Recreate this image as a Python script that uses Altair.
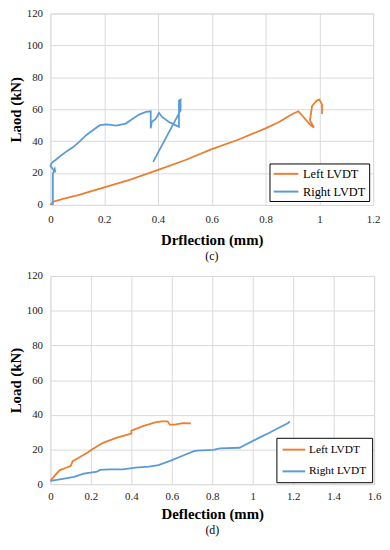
import altair as alt
import pandas as pd

# ---- data ----
# (c)
c_left_x = [0.0, 0.01, 0.05, 0.10, 0.20, 0.30, 0.40, 0.50, 0.60, 0.70, 0.80, 0.85, 0.90, 0.922,
            0.967, 0.98, 0.965, 0.973, 0.99, 1.0, 1.01, 1.01]
c_left_y = [0.0, 2.0, 4.0, 6.0, 11.0, 16.0, 22.0, 28.0, 35.0, 41.0, 48.0, 52.0, 57.0, 58.7,
            50.0, 48.5, 53.0, 62.0, 65.4, 66.0, 63.0, 57.0]
c_right_x = [0.009, 0.009, 0.016, 0.018, 0.0, 0.006, 0.018, 0.037, 0.061, 0.086, 0.11, 0.135,
             0.159, 0.184, 0.208, 0.245, 0.28, 0.306, 0.33, 0.355, 0.373, 0.373, 0.377, 0.392,
             0.404, 0.416, 0.441, 0.465, 0.478, 0.478, 0.484, 0.484, 0.382]
c_right_y = [0.0, 19.4, 22.5, 20.5, 24.5, 26.6, 28.0, 30.7, 33.7, 36.4, 40.0, 44.0,
             47.0, 50.0, 50.5, 49.7, 51.0, 54.0, 56.6, 58.3, 58.7, 48.0, 52.0, 54.0,
             57.7, 55.0, 52.0, 50.0, 49.0, 65.4, 66.0, 59.3, 27.0]
# (d)
d_left_x = [0.0, 0.02, 0.045, 0.077, 0.10, 0.11, 0.14, 0.18, 0.205, 0.245, 0.26, 0.325, 0.40,
            0.40, 0.454, 0.518, 0.55, 0.579, 0.59, 0.614, 0.654, 0.694]
d_left_y = [1.9, 4.8, 8.0, 9.5, 10.5, 13.3, 15.2, 18.0, 20.0, 22.9, 23.8, 26.7, 29.1,
            30.9, 33.3, 35.6, 36.2, 36.2, 34.3, 34.3, 35.2, 35.0]
d_right_x = [0.0, 0.069, 0.117, 0.165, 0.23, 0.245, 0.293, 0.357, 0.42, 0.486, 0.534, 0.598,
             0.662, 0.71, 0.726, 0.806, 0.838, 0.935, 0.966, 0.999, 1.03, 1.08, 1.127, 1.175, 1.183]
d_right_y = [1.9, 3.2, 4.2, 6.1, 7.2, 8.2, 8.6, 8.6, 9.5, 10.1, 11.0, 13.7,
             16.8, 19.0, 19.4, 19.8, 20.6, 21.0, 22.9, 24.8, 26.7, 29.5, 32.4, 35.2, 36.2]

series = ["Left LVDT", "Right LVDT"]
colors = ["#ED7D31", "#5B9BD5"]
c_x_ticks = [0, 0.2, 0.4, 0.6, 0.8, 1.0, 1.2]
d_x_ticks = [0, 0.2, 0.4, 0.6, 0.8, 1.0, 1.2, 1.4, 1.6]
y_ticks = [0, 20, 40, 60, 80, 100, 120]

FONT = "Liberation Serif"


def frame(lx, ly, rx, ry):
    rows = []
    for name, xs, ys in [(series[0], lx, ly), (series[1], rx, ry)]:
        for i, (x, y) in enumerate(zip(xs, ys)):
            rows.append({"s": name, "x": x, "y": y, "i": i})
    return pd.DataFrame(rows)


def panel(df, xmax, xticks, xtitle, ytitle, caption, w, h, legend,
          lpad, tpad, coff):
    return alt.Chart(df, title=alt.TitleParams(
        caption, orient="bottom", font=FONT, fontSize=12, fontWeight="normal",
        color="#000", offset=coff)).mark_line(strokeWidth=1.8).encode(
        x=alt.X("x:Q", scale=alt.Scale(domain=[0, xmax], nice=False),
                axis=alt.Axis(values=xticks, format="~g", title=xtitle, grid=True,
                              gridColor="#d9d9d9", domain=False, ticks=False,
                              labelFont=FONT, labelFontSize=11, labelColor="#222",
                              labelPadding=lpad, titleFont=FONT, titleFontSize=15,
                              titleFontWeight="bold", titleColor="#000",
                              titlePadding=tpad, labelFlush=False)),
        y=alt.Y("y:Q", scale=alt.Scale(domain=[0, 120], nice=False),
                axis=alt.Axis(values=y_ticks, title=ytitle, grid=True,
                              gridColor="#d9d9d9", domain=False, ticks=False,
                              labelFont=FONT, labelFontSize=11, labelColor="#222",
                              labelPadding=8, titleFont=FONT, titleFontSize=15,
                              titleFontWeight="bold", titleColor="#000",
                              titlePadding=3, labelFlush=False)),
        color=alt.Color("s:N", scale=alt.Scale(domain=series, range=colors),
                        legend=legend),
        order="i:Q",
    ).properties(width=w, height=h)


LINE_SYMBOL = "M-1,0H3"
leg_c = alt.Legend(title=None, orient="bottom-right", offset=4, strokeColor="#000",
                   fillColor="#fff", padding=3, labelFont=FONT, labelFontSize=12.5,
                   labelColor="#000", symbolType=LINE_SYMBOL, symbolSize=156,
                   symbolStrokeWidth=2, rowPadding=4, labelOffset=16)
leg_d = alt.Legend(title=None, orient="bottom-right", offset=2, strokeColor="#000",
                   fillColor="#fff", padding=5, labelFont=FONT, labelFontSize=11.5,
                   labelColor="#000", symbolType=LINE_SYMBOL, symbolSize=132,
                   symbolStrokeWidth=2, rowPadding=9, labelOffset=14)

top = panel(frame(c_left_x, c_left_y, c_right_x, c_right_y), 1.2, c_x_ticks,
            "Drflection (mm)", "Laod (kN)", "(c)", 327, 194, leg_c, 9, 8, 4)
bottom = panel(frame(d_left_x, d_left_y, d_right_x, d_right_y), 1.6, d_x_ticks,
               "Deflection (mm)", "Load (kN)", "(d)", 328, 211, leg_d, 7, 5, 3)

chart = alt.vconcat(top, bottom, spacing=6).resolve_scale(
    color="independent").resolve_legend(color="independent").properties(
    padding={"top": -5, "left": 0, "right": 0, "bottom": 0}).configure_view(
    stroke="#333", strokeWidth=1).configure(background="#fff", font=FONT)

chart.save("out.html", embed_options={"renderer": "svg", "actions": False})
